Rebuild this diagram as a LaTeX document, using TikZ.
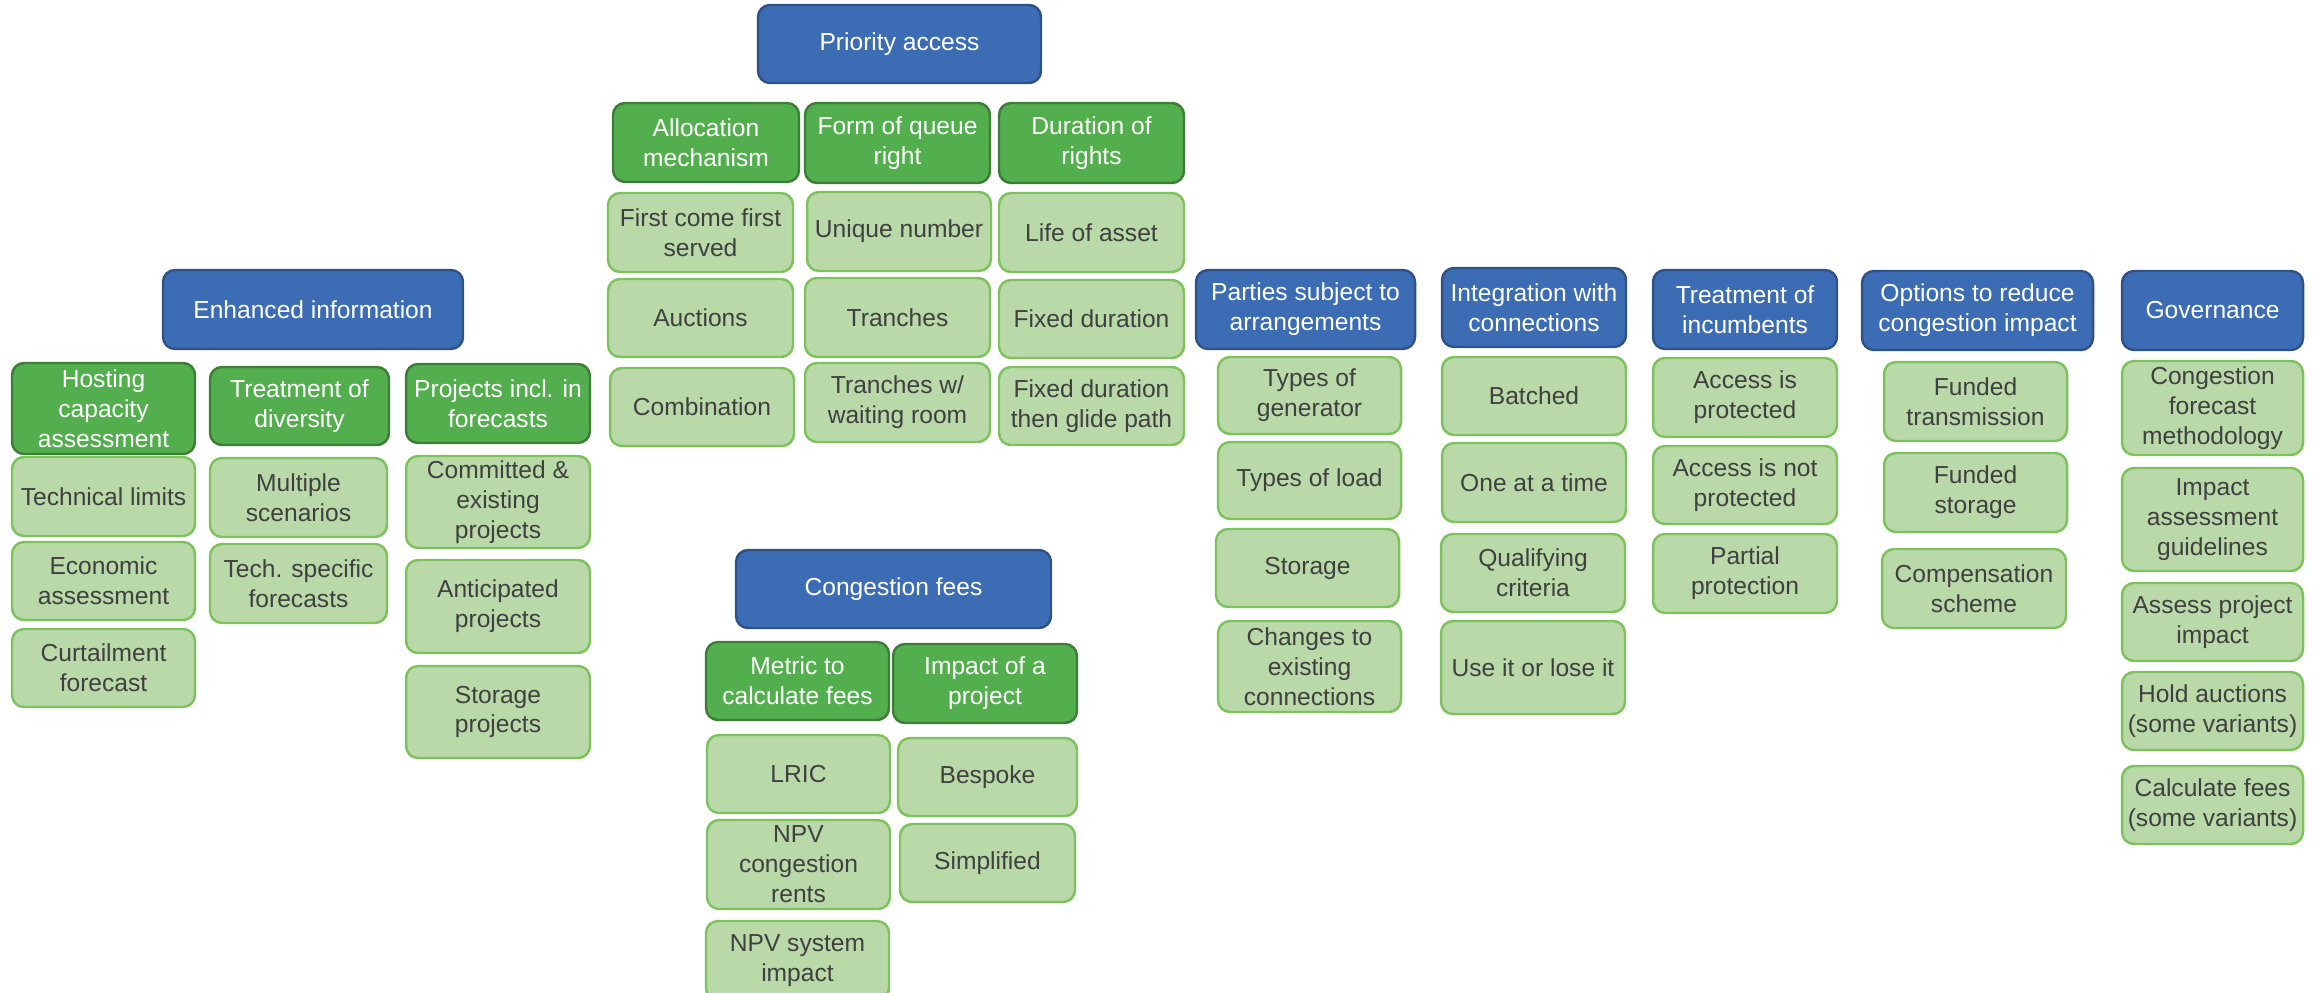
\documentclass[tikz,border=0pt]{standalone}
\usepackage{fontspec}
\setmainfont{Liberation Sans}
\definecolor{headblue}{HTML}{3C6DB4}
\definecolor{headline}{HTML}{2F5089}
\definecolor{subgreen}{HTML}{53AE4D}
\definecolor{subline}{HTML}{3C7E36}
\definecolor{leafgreen}{HTML}{B9D9A9}
\definecolor{leafline}{HTML}{7DC35B}
\definecolor{leaftext}{HTML}{404040}
\begin{document}
\begin{tikzpicture}
            [x=0.02cm, y=-0.02cm,
        box/.style={rounded corners=0.24cm, line width=1.4pt, align=center, inner sep=1pt,
            minimum width=3.68cm, minimum height=1.58cm, font=\fontsize{14}{17}\selectfont},
        headbox/.style={box, fill=headblue, draw=headline, text=white},
        subbox/.style={box, fill=subgreen, draw=subline, text=white},
        leafbox/.style={box, fill=leafgreen, draw=leafline, text=leaftext},
        bw/.style={minimum width=#1*0.02cm},
        bh/.style={minimum height=#1*0.02cm}]
            \useasboundingbox (0,0) rectangle (2318,993);

            % enhanced information
            \node[headbox, bw=300] (info) at (313,309.5) {Enhanced information};
            \node[subbox, bw=183, bh=91] (hosting) at (103.5,408.5) {Hosting\\capacity\\assessment};
            \node[subbox, bw=179, bh=78] (diversity) at (299.5,406) {Treatment of\\diversity};
            \node[subbox] (projects) at (498,403.5) {Projects incl. in\\forecasts};
            \node[leafbox, bw=183] (techlim) at (103.5,496.5) {Technical limits};
            \node[leafbox, bw=183, bh=78] (econ) at (103.5,581) {Economic\\assessment};
            \node[leafbox, bw=183, bh=78] (curtail) at (103.5,668) {Curtailment\\forecast};
            \node[leafbox, bw=177] (scenarios) at (298.5,497.5) {Multiple\\scenarios};
            \node[leafbox, bw=177] (techspec) at (298.5,583.5) {Tech. specific\\forecasts};
            \node[leafbox, bh=92] (committed) at (498,502) {Committed \&\\existing\\projects};
            \node[leafbox, bh=93] (anticip) at (498,606.5) {Anticipated\\projects};
            \node[leafbox, bh=92] (storproj) at (498,712) {Storage\\projects};

            % priority access
            \node[headbox, bw=283, bh=78] (priority) at (899.5,44) {Priority access};
            \node[subbox, bw=186] (alloc) at (706,142.5) {Allocation\\mechanism};
            \node[subbox, bw=185, bh=80] (queue) at (897.5,143) {Form of queue\\right};
            \node[subbox, bw=185, bh=80] (duration) at (1091.5,143) {Duration of\\rights};
            \node[leafbox, bw=185] (fcfs) at (700.5,232.5) {First come first\\served};
            \node[leafbox] (unique) at (899,231.5) {Unique number};
            \node[leafbox, bw=185] (life) at (1091.5,232.5) {Life of asset};
            \node[leafbox, bw=185, bh=78] (auctions) at (700.5,318) {Auctions};
            \node[leafbox, bw=185] (tranches) at (897.5,317.5) {Tranches};
            \node[leafbox, bw=185, bh=78] (fixed) at (1091.5,319) {Fixed duration};
            \node[leafbox, bh=78] (combi) at (702,407) {Combination};
            \node[leafbox, bw=185] (waiting) at (897.5,402.5) {Tranches w/\\waiting room};
            \node[leafbox, bw=185, bh=78] (glide) at (1091.5,406) {Fixed duration\\then glide path};

            % congestion fees
            \node[headbox, bw=315, bh=78] (fees) at (893.5,589) {Congestion fees};
            \node[subbox, bw=183, bh=78] (metric) at (797.5,681) {Metric to\\calculate fees};
            \node[subbox] (impact) at (985,683.5) {Impact of a\\project};
            \node[leafbox, bw=183, bh=78] (lric) at (798.5,774) {LRIC};
            \node[leafbox, bw=179, bh=78] (bespoke) at (987.5,777) {Bespoke};
            \node[leafbox, bw=183, bh=89] (rents) at (798.5,864.5) {NPV\\congestion\\rents};
            \node[leafbox, bw=175, bh=78] (simple) at (987.5,863) {Simplified};
            \node[leafbox, bw=183] (sysimp) at (797.5,960.5) {NPV system\\impact};

            % parties subject to arrangements
            \node[headbox, bw=219] (parties) at (1305.5,309.5) {Parties subject to\\arrangements};
            \node[leafbox, bw=183, bh=77] (gen) at (1309.5,395.5) {Types of\\generator};
            \node[leafbox, bw=183, bh=77] (load) at (1309.5,480.5) {Types of load};
            \node[leafbox, bw=183, bh=78] (storage) at (1307.5,568) {Storage};
            \node[leafbox, bw=183, bh=91] (changes) at (1309.5,666.5) {Changes to\\existing\\connections};

            % integration with connections
            \node[headbox] (integ) at (1534,307.5) {Integration with\\connections};
            \node[leafbox, bh=78] (batched) at (1534,396) {Batched};
            \node[leafbox] (onetime) at (1534,482.5) {One at a time};
            \node[leafbox, bh=78] (qualif) at (1533,573) {Qualifying\\criteria};
            \node[leafbox, bh=93] (useit) at (1533,667.5) {Use it or lose it};

            % treatment of incumbents
            \node[headbox] (incumb) at (1745,309.5) {Treatment of\\incumbents};
            \node[leafbox] (prot) at (1745,397.5) {Access is\\protected};
            \node[leafbox, bh=78] (notprot) at (1745,485) {Access is not\\protected};
            \node[leafbox] (partial) at (1745,573.5) {Partial\\protection};

            % options to reduce congestion impact
            \node[headbox, bw=231] (options) at (1977.5,310.5) {Options to reduce\\congestion impact};
            \node[leafbox, bw=183] (fundtrans) at (1975.5,401.5) {Funded\\transmission};
            \node[leafbox, bw=183] (fundstor) at (1975.5,492.5) {Funded\\storage};
            \node[leafbox] (compens) at (1974,588.5) {Compensation\\scheme};

            % governance
            \node[headbox, bw=181] (gov) at (2212.5,310.5) {Governance};
            \node[leafbox, bw=181, bh=94] (method) at (2212.5,408) {Congestion\\forecast\\methodology};
            \node[leafbox, bw=181, bh=103] (guide) at (2212.5,519.5) {Impact\\assessment\\guidelines};
            \node[leafbox, bw=181, bh=78] (assess) at (2212.5,622) {Assess project\\impact};
            \node[leafbox, bw=181, bh=78] (hold) at (2212.5,711) {Hold auctions\\(some variants)};
            \node[leafbox, bw=181, bh=78] (calc) at (2212.5,805) {Calculate fees\\(some variants)};
        \end{tikzpicture}
\end{document}
